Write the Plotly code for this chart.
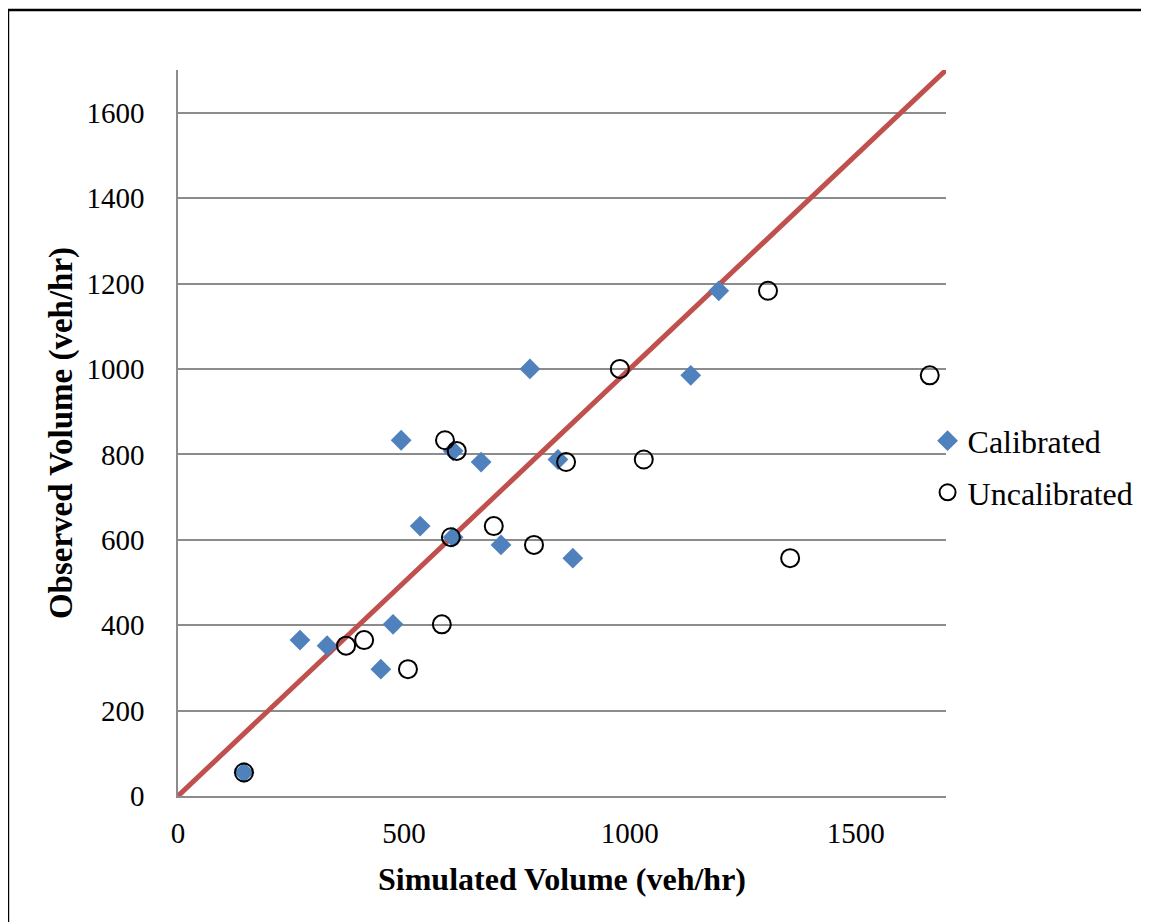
import plotly.graph_objects as go

# Data
observed = [55, 365, 352, 297, 402, 833, 632, 808, 606, 782, 588, 1000, 788, 557, 985, 1183]
sim_calibrated = [146, 270, 330, 449, 476, 494, 536, 609, 609, 671, 715, 779, 841, 874, 1135, 1197]
sim_uncalibrated = [146, 412, 372, 509, 584, 591, 699, 617, 604, 859, 788, 978, 1031, 1355, 1664, 1306]
line_x = [0, 1700]
line_y = [0, 1700]
x_ticks = [0, 500, 1000, 1500]
y_ticks = [0, 200, 400, 600, 800, 1000, 1200, 1400, 1600]

FONT = "Liberation Serif, Times New Roman, serif"
GRID = "#8c8c8c"

fig = go.Figure()
fig.add_trace(go.Scatter(x=line_x, y=line_y, mode="lines",
                         line=dict(color="#C0504D", width=5),
                         showlegend=False, hoverinfo="skip"))
fig.add_trace(go.Scatter(x=sim_calibrated, y=observed, mode="markers", name="Calibrated",
                         legendgroup="a",
                         marker=dict(symbol="diamond", size=16, color="#4F81BD",
                                     line=dict(width=0))))
fig.add_trace(go.Scatter(x=sim_uncalibrated, y=observed, mode="markers", name="Uncalibrated",
                         legendgroup="b",
                         marker=dict(symbol="circle-open", size=18, color="black",
                                     line=dict(width=2, color="black"))))

fig.update_layout(
    width=1141, height=914,
    margin=dict(l=170, r=203, t=62, b=126, autoexpand=False),
    paper_bgcolor="white", plot_bgcolor="white",
    font=dict(family=FONT, size=29, color="black"),
    showlegend=True,
    legend=dict(x=0.976, y=0.527, xanchor="left", yanchor="top",
                font=dict(family=FONT, size=32, color="black"),
                bgcolor="rgba(0,0,0,0)", tracegroupgap=7, itemwidth=30),
    xaxis=dict(range=[0, 1700], tickvals=x_ticks, showgrid=False, zeroline=False,
               showline=True, linecolor=GRID, linewidth=1.5, ticks="",
               tickfont=dict(family=FONT, size=29), ticklabelstandoff=10,
               title=dict(text="<b>Simulated Volume (veh/hr)</b>",
                          font=dict(family=FONT, size=32), standoff=20)),
    yaxis=dict(range=[0, 1700], tickvals=y_ticks, showgrid=True, gridcolor=GRID,
               gridwidth=1.5, zeroline=False, showline=True, linecolor=GRID,
               linewidth=1.5, ticks="", tickfont=dict(family=FONT, size=29),
               ticklabelstandoff=26,
               title=dict(text="<b>Observed Volume (veh/hr)</b>",
                          font=dict(family=FONT, size=33), standoff=4)),
    shapes=[
        dict(type="line", xref="paper", yref="paper", x0=-0.2214, x1=1.3, y0=1.0826, y1=1.0826,
             line=dict(color="black", width=2.5)),
        dict(type="line", xref="paper", yref="paper", x0=-0.2214, x1=-0.2214, y0=1.0826, y1=-0.3,
             line=dict(color="black", width=2.5)),
    ],
)

fig.write_html("out.html")
